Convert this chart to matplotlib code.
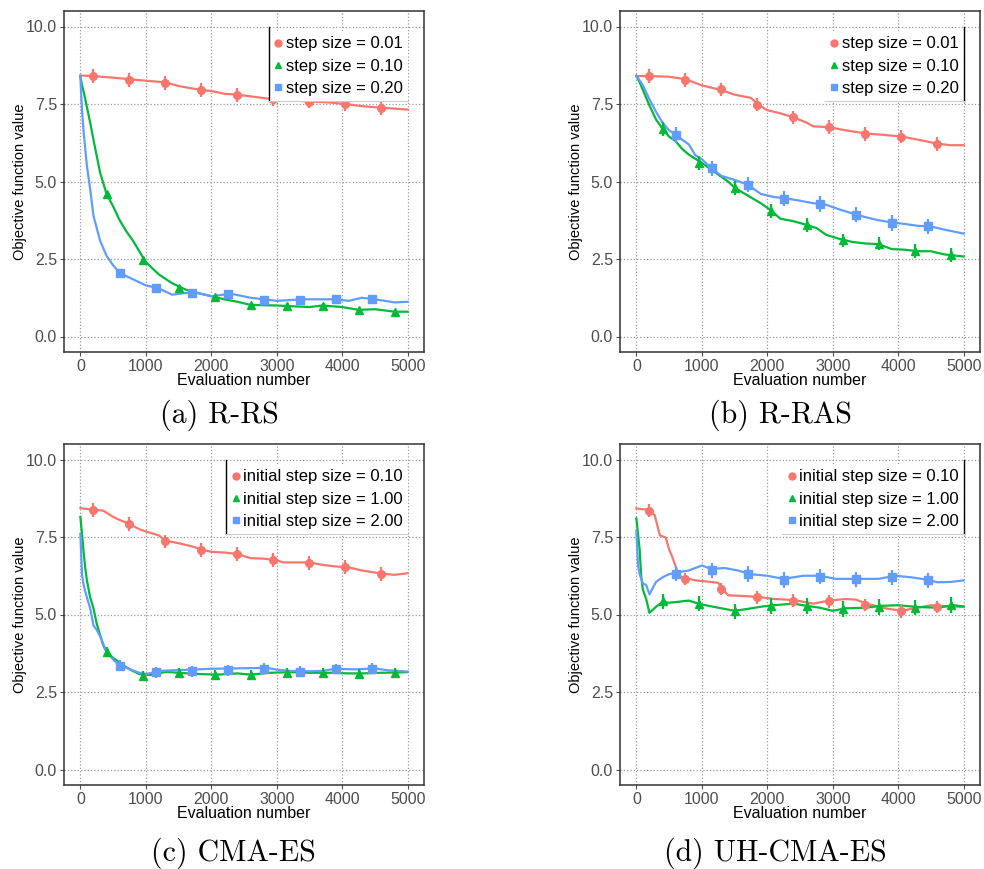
import numpy as np
import matplotlib
matplotlib.use('Agg')
import matplotlib.pyplot as plt
from matplotlib.lines import Line2D

plt.rcParams['font.family'] = ['Liberation Sans', 'DejaVu Sans']

RED = '#F8766D'
GREEN = '#00BA38'
BLUE = '#619CFF'

# positions of the error bar markers (same in every panel)
red_mx = [200, 750, 1300, 1850, 2400, 2950, 3500, 4050, 4600]
green_mx = [400, 950, 1500, 2050, 2600, 3150, 3700, 4250, 4800]
blue_mx = [600, 1150, 1700, 2250, 2800, 3350, 3900, 4450]

# ---- (a) R-RS
a_red_x = [0, 200, 500, 750, 1000, 1300, 1500, 1850, 2000, 2200, 2400, 2700, 2950, 3200, 3500, 3800, 4050, 4300, 4600, 4800, 5000]
a_red_y = [8.42, 8.4, 8.35, 8.3, 8.25, 8.2, 8.08, 7.95, 7.92, 7.83, 7.8, 7.72, 7.65, 7.62, 7.58, 7.55, 7.5, 7.43, 7.38, 7.35, 7.32]
a_green_x = [0, 25, 50, 100, 150, 200, 300, 400, 500, 600, 700, 800, 900, 1000, 1200, 1400, 1600, 1800, 2000, 2200, 2400, 2600, 3000, 3500, 3700, 4000, 4250, 4500, 4800, 5000]
a_green_y = [8.4, 8.1, 7.9, 7.4, 6.9, 6.35, 5.3, 4.6, 4.2, 3.75, 3.4, 3.1, 2.75, 2.4, 2.0, 1.72, 1.52, 1.4, 1.3, 1.2, 1.12, 1.02, 1.0, 0.95, 1.0, 0.95, 0.86, 0.88, 0.8, 0.8]
a_blue_x = [0, 25, 50, 100, 150, 200, 300, 400, 500, 600, 800, 1000, 1200, 1400, 1600, 1800, 2000, 2300, 2600, 2800, 3000, 3400, 3700, 3900, 4100, 4300, 4500, 4800, 5000]
a_blue_y = [8.4, 7.3, 6.6, 5.5, 4.75, 3.9, 3.1, 2.6, 2.3, 2.05, 1.85, 1.65, 1.55, 1.35, 1.4, 1.4, 1.3, 1.38, 1.25, 1.2, 1.15, 1.2, 1.2, 1.2, 1.15, 1.25, 1.2, 1.1, 1.12]
a_red_my = [8.4, 8.28, 8.18, 7.95, 7.8, 7.65, 7.58, 7.5, 7.38]
a_green_my = [4.6, 2.48, 1.58, 1.27, 1.02, 1.0, 1.0, 0.86, 0.8]
a_blue_my = [2.05, 1.55, 1.4, 1.38, 1.18, 1.18, 1.2, 1.2]
a_err = [0.22, 0.07, 0.07]

# ---- (b) R-RAS
b_red_x = [0, 200, 500, 750, 1000, 1300, 1500, 1750, 1850, 2000, 2200, 2400, 2600, 2700, 2950, 3200, 3500, 3800, 4050, 4300, 4600, 4800, 5000]
b_red_y = [8.4, 8.4, 8.38, 8.3, 8.1, 7.95, 7.8, 7.7, 7.5, 7.3, 7.2, 7.07, 6.9, 6.78, 6.75, 6.65, 6.55, 6.5, 6.45, 6.35, 6.22, 6.17, 6.17]
b_green_x = [0, 50, 100, 200, 300, 400, 500, 600, 700, 800, 1000, 1200, 1400, 1500, 1700, 1900, 2050, 2200, 2400, 2600, 2750, 2900, 3100, 3300, 3500, 3700, 3900, 4100, 4300, 4500, 4700, 5000]
b_green_y = [8.4, 8.2, 7.95, 7.45, 7.0, 6.7, 6.45, 6.3, 6.05, 5.87, 5.6, 5.3, 5.0, 4.8, 4.55, 4.3, 4.08, 3.8, 3.72, 3.6, 3.5, 3.28, 3.15, 3.05, 3.0, 2.98, 2.82, 2.8, 2.75, 2.75, 2.65, 2.58]
b_blue_x = [0, 100, 200, 300, 400, 500, 600, 700, 800, 900, 1000, 1150, 1300, 1500, 1700, 1900, 2100, 2300, 2500, 2700, 2900, 3100, 3300, 3500, 3700, 3900, 4100, 4300, 4500, 4700, 5000]
b_blue_y = [8.42, 8.1, 7.65, 7.25, 6.9, 6.65, 6.5, 6.35, 6.2, 5.85, 5.72, 5.42, 5.18, 5.05, 4.9, 4.6, 4.5, 4.45, 4.38, 4.3, 4.25, 4.1, 3.97, 3.85, 3.75, 3.68, 3.63, 3.57, 3.55, 3.45, 3.32]
b_red_my = [8.4, 8.28, 7.97, 7.48, 7.07, 6.75, 6.53, 6.45, 6.21]
b_green_my = [6.7, 5.6, 4.8, 4.05, 3.6, 3.1, 3.0, 2.75, 2.63]
b_blue_my = [6.5, 5.42, 4.9, 4.45, 4.28, 3.93, 3.66, 3.55]
b_err = [0.22, 0.22, 0.25]

# ---- (c) CMA-ES
c_red_x = [0, 200, 350, 500, 600, 750, 900, 1000, 1200, 1300, 1500, 1700, 1850, 2000, 2200, 2400, 2600, 2800, 3000, 3100, 3500, 3700, 3900, 4100, 4300, 4600, 4800, 5000]
c_red_y = [8.43, 8.38, 8.35, 8.15, 8.05, 7.92, 7.75, 7.68, 7.55, 7.38, 7.3, 7.2, 7.1, 7.02, 7.0, 6.95, 6.82, 6.8, 6.75, 6.68, 6.68, 6.6, 6.55, 6.52, 6.42, 6.32, 6.28, 6.33]
c_green_x = [0, 25, 50, 75, 100, 150, 200, 250, 300, 350, 400, 500, 600, 700, 800, 900, 1000, 1100, 1300, 1500, 1800, 2100, 2400, 2600, 2900, 3200, 3500, 3800, 4100, 4300, 4600, 5000]
c_green_y = [8.15, 7.6, 7.0, 6.5, 6.1, 5.55, 5.2, 4.7, 4.35, 4.0, 3.8, 3.6, 3.45, 3.3, 3.18, 3.08, 3.05, 3.05, 3.15, 3.12, 3.08, 3.06, 3.1, 3.06, 3.12, 3.14, 3.12, 3.12, 3.1, 3.1, 3.12, 3.14]
c_blue_x = [0, 25, 50, 100, 150, 200, 250, 300, 350, 400, 500, 600, 700, 800, 900, 1000, 1100, 1200, 1400, 1700, 2000, 2300, 2600, 2850, 3000, 3200, 3500, 3700, 3900, 4200, 4500, 4700, 5000]
c_blue_y = [7.6, 6.3, 5.95, 5.55, 5.2, 4.65, 4.5, 4.3, 4.05, 3.8, 3.55, 3.35, 3.28, 3.2, 3.12, 3.08, 3.12, 3.18, 3.2, 3.22, 3.25, 3.26, 3.27, 3.28, 3.22, 3.18, 3.17, 3.18, 3.25, 3.23, 3.26, 3.2, 3.16]
c_red_my = [8.38, 7.92, 7.36, 7.09, 6.95, 6.75, 6.67, 6.53, 6.3]
c_green_my = [3.8, 3.02, 3.12, 3.06, 3.06, 3.12, 3.12, 3.08, 3.12]
c_blue_my = [3.35, 3.13, 3.17, 3.2, 3.25, 3.16, 3.24, 3.25]
c_err = [0.22, 0.15, 0.17]

# ---- (d) UH-CMA-ES
d_red_x = [0, 200, 280, 330, 360, 450, 500, 550, 600, 650, 750, 900, 1100, 1250, 1320, 1400, 1600, 1850, 2100, 2300, 2450, 2700, 2950, 3200, 3350, 3550, 3800, 4050, 4300, 4500, 4700, 5000]
d_red_y = [8.42, 8.37, 8.2, 7.8, 7.55, 7.48, 7.1, 6.85, 6.55, 6.25, 6.18, 6.1, 6.06, 6.02, 5.82, 5.62, 5.6, 5.57, 5.5, 5.48, 5.45, 5.35, 5.45, 5.5, 5.48, 5.33, 5.2, 5.12, 5.22, 5.3, 5.27, 5.24]
d_green_x = [0, 25, 50, 75, 100, 150, 200, 250, 300, 400, 500, 600, 800, 950, 1100, 1300, 1500, 1700, 1900, 2100, 2400, 2600, 2800, 3000, 3200, 3500, 3750, 4000, 4300, 4600, 4850, 5000]
d_green_y = [8.1, 7.6, 7.1, 6.2, 5.8, 5.5, 5.05, 5.15, 5.25, 5.4, 5.38, 5.4, 5.45, 5.35, 5.28, 5.2, 5.12, 5.18, 5.25, 5.3, 5.35, 5.28, 5.22, 5.12, 5.2, 5.22, 5.28, 5.3, 5.24, 5.22, 5.3, 5.26]
d_blue_x = [0, 25, 50, 100, 150, 200, 250, 300, 400, 500, 600, 800, 1000, 1150, 1350, 1550, 1750, 2000, 2250, 2550, 2800, 3050, 3400, 3700, 3950, 4200, 4450, 4600, 4800, 5000]
d_blue_y = [7.7, 6.6, 6.3, 6.0, 5.95, 5.65, 5.85, 6.05, 6.2, 6.3, 6.35, 6.42, 6.58, 6.47, 6.5, 6.42, 6.3, 6.25, 6.15, 6.25, 6.25, 6.15, 6.15, 6.15, 6.25, 6.2, 6.12, 6.04, 6.05, 6.1]
d_red_my = [8.35, 6.15, 5.82, 5.55, 5.45, 5.42, 5.3, 5.1, 5.25]
d_green_my = [5.42, 5.35, 5.1, 5.27, 5.27, 5.17, 5.25, 5.22, 5.3]
d_blue_my = [6.32, 6.42, 6.3, 6.12, 6.22, 6.13, 6.2, 6.1]
d_err = [0.2, 0.25, 0.25]

labels_rs = ['step size = 0.01', 'step size = 0.10', 'step size = 0.20']
labels_cma = ['initial step size = 0.10', 'initial step size = 1.00', 'initial step size = 2.00']
captions = ['(a) R-RS', '(b) R-RAS', '(c) CMA-ES', '(d) UH-CMA-ES']


def draw_panel(ax, series, errs, labels):
	colors = [RED, GREEN, BLUE]
	markers = ['o', '^', 's']
	mxs = [red_mx, green_mx, blue_mx]
	for (x, y, my), c, m, mx, e in zip(series, colors, markers, mxs, errs):
		ax.plot(x, y, color=c, lw=1.6, zorder=3)
		ax.errorbar(mx, my, yerr=e, fmt=m, color=c, ms=5.5, elinewidth=1.6, capsize=0, zorder=4)
	ax.set_xlim(-250, 5250)
	ax.set_ylim(-0.5, 10.5)
	ax.set_xticks([0, 1000, 2000, 3000, 4000, 5000])
	ax.set_yticks([0.0, 2.5, 5.0, 7.5, 10.0])
	ax.set_yticklabels(['0.0', '2.5', '5.0', '7.5', '10.0'])
	ax.grid(True, color='#9a9a9a', linestyle=':', linewidth=0.9)
	ax.set_axisbelow(True)
	for s in ax.spines.values():
		s.set_color('#333333')
		s.set_linewidth(1.1)
	ax.tick_params(colors='#4d4d4d', labelsize=11.5, length=3, width=0.8, pad=2)
	ax.set_xlabel('Evaluation number', fontsize=11.5, labelpad=-1)
	ax.set_ylabel('Objective function value', fontsize=10.5, labelpad=-1)

	handles = [Line2D([], [], color=c, marker=m, ls='', ms=5) for c, m in zip(colors, markers)]
	leg = ax.legend(handles, labels, loc='upper right', bbox_to_anchor=(0.955, 0.94),
		fontsize=12, frameon=True, fancybox=False, framealpha=1, facecolor='white',
		edgecolor='none', handlelength=0.5, handletextpad=0.2, labelspacing=0.43,
		borderpad=0.3, borderaxespad=0)
	leg.set_zorder(5)
	return leg


fig = plt.figure(figsize=(9.84, 8.69), dpi=100)
W, H = 984.0, 869.0
boxes = [(64, 11), (620, 11), (64, 444), (620, 444)]
all_series = [
	[(a_red_x, a_red_y, a_red_my), (a_green_x, a_green_y, a_green_my), (a_blue_x, a_blue_y, a_blue_my)],
	[(b_red_x, b_red_y, b_red_my), (b_green_x, b_green_y, b_green_my), (b_blue_x, b_blue_y, b_blue_my)],
	[(c_red_x, c_red_y, c_red_my), (c_green_x, c_green_y, c_green_my), (c_blue_x, c_blue_y, c_blue_my)],
	[(d_red_x, d_red_y, d_red_my), (d_green_x, d_green_y, d_green_my), (d_blue_x, d_blue_y, d_blue_my)],
]
all_errs = [a_err, b_err, c_err, d_err]
all_labels = [labels_rs, labels_rs, labels_cma, labels_cma]
bar_sides = ['left', 'right', 'left', 'right']
cap_pos = [(219, 415), (780, 415), (233, 853), (775, 853)]

axes = []
legs = []
for i in range(4):
	lx, ty = boxes[i]
	ax = fig.add_axes([lx / W, 1 - (ty + 341) / H, 360 / W, 341 / H])
	legs.append(draw_panel(ax, all_series[i], all_errs[i], all_labels[i]))
	axes.append(ax)
	cx, cy = cap_pos[i]
	fig.text(cx / W, 1 - cy / H, captions[i], family='cmr10', fontsize=21.5, ha='center', va='center')

# legend side rule (black) and bottom rule (light gray)
fig.canvas.draw()
for ax, leg, side in zip(axes, legs, bar_sides):
	bb = leg.get_window_extent().transformed(ax.transAxes.inverted())
	xs = bb.x0 if side == 'left' else bb.x1
	ax.add_line(Line2D([xs, xs], [bb.y0, bb.y1 + 0.012], transform=ax.transAxes, color='black', lw=1.0, zorder=6))
	ax.add_line(Line2D([bb.x0, bb.x1], [bb.y0, bb.y0], transform=ax.transAxes, color='#cccccc', lw=0.8, zorder=6))

fig.savefig('out.png', dpi=100)
